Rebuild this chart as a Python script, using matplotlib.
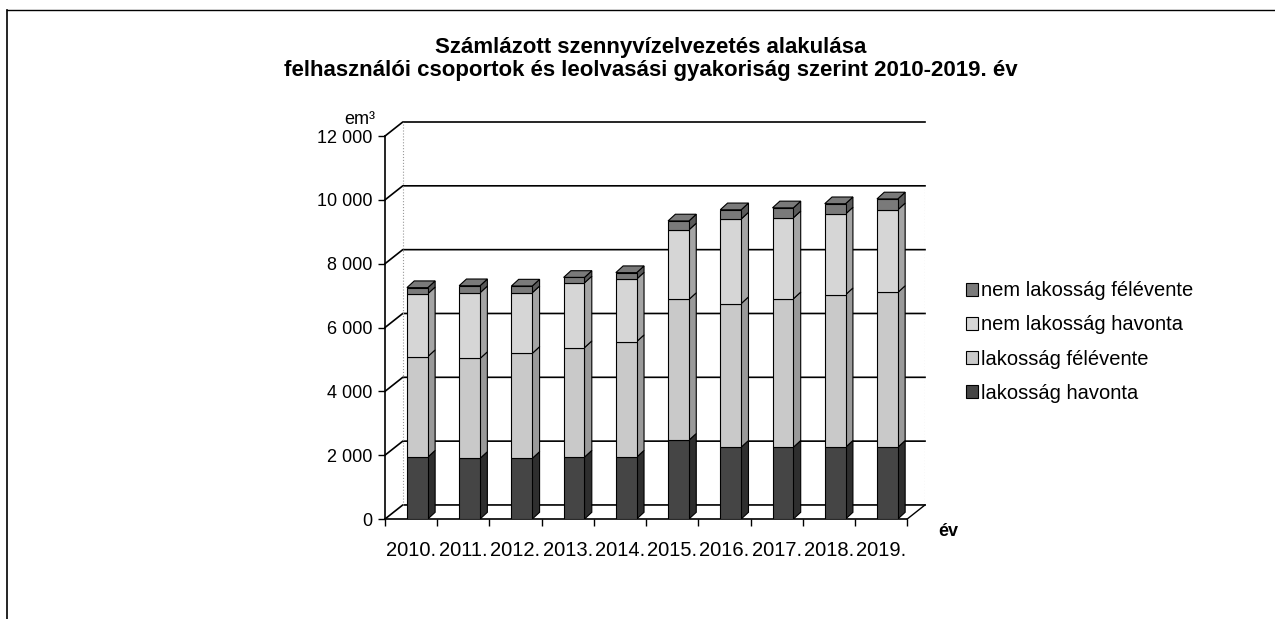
import matplotlib.pyplot as plt
import numpy as np
from matplotlib.patches import Patch
from matplotlib.lines import Line2D
from matplotlib.ticker import FuncFormatter

plt.rcParams["font.family"] = ["Liberation Sans", "DejaVu Sans"]

years = ["2010.", "2011.", "2012.", "2013.", "2014.",
         "2015.", "2016.", "2017.", "2018.", "2019."]

# em3
lak_havonta = [1940, 1900, 1900, 1940, 1940, 2470, 2250, 2250, 2250, 2250]
lak_felevente = [3150, 3130, 3290, 3430, 3620, 4410, 4500, 4650, 4780, 4850]
nem_havonta = [1970, 2060, 1900, 2030, 1960, 2180, 2650, 2540, 2530, 2590]
nem_felevente = [190, 220, 210, 170, 200, 280, 290, 310, 320, 340]

series = [
    ("lakosság havonta", lak_havonta, "#454545", "#2e2e2e"),
    ("lakosság félévente", lak_felevente, "#c9c9c9", "#9a9a9a"),
    ("nem lakosság havonta", nem_havonta, "#d6d6d6", "#a5a5a5"),
    ("nem lakosság félévente", nem_felevente, "#7a7a7a", "#5a5a5a"),
]

yticks = [0, 2000, 4000, 6000, 8000, 10000, 12000]

# pseudo 3D depth (data units)
WALL_DX, WALL_DY = 0.34, 440
BAR_DX, BAR_DY = 0.14, 210
BAR_W, BAR_OFF = 0.40, 0.12

fig = plt.figure(figsize=(12.75, 6.19), dpi=100)
ax = fig.add_axes([385 / 1275, 1 - 519 / 619, (925 - 385) / 1275,
                   (519 - 122) / 619])
n = len(years)
x = np.arange(n)
ax.set_xlim(-0.5, n - 0.5 + WALL_DX)
ax.set_ylim(0, 12000 + WALL_DY)

# back wall gridlines
for v in yticks:
    ax.plot([-0.5, -0.5 + WALL_DX, n - 0.5 + WALL_DX],
            [v, v + WALL_DY, v + WALL_DY], color="black", lw=1.2,
            zorder=1, clip_on=False)
ax.plot([-0.5 + WALL_DX] * 2, [WALL_DY, 12000 + WALL_DY], color="#999999",
        lw=0.8, ls=":", zorder=1)
ax.plot([n - 0.5 + WALL_DX] * 2, [WALL_DY, 10000 + WALL_DY], color="#999999",
        lw=0.8, ls=":", zorder=1)
ax.plot([n - 0.5, n - 0.5 + WALL_DX], [0, WALL_DY], color="black", lw=1,
        zorder=1, clip_on=False)

# stacked pseudo-3D bars
bottom = np.zeros(n)
for k, (name, vals, face, side) in enumerate(series):
    vals = np.array(vals, dtype=float)
    xl = x + BAR_OFF - BAR_W / 2
    xr = xl + BAR_W
    ax.bar(x + BAR_OFF, vals, width=BAR_W, bottom=bottom, color=face,
           edgecolor="black", lw=0.8, zorder=3)
    for i in range(n):
        b, t = bottom[i], bottom[i] + vals[i]
        ax.fill([xr[i], xr[i] + BAR_DX, xr[i] + BAR_DX, xr[i]],
                [b, b + BAR_DY, t + BAR_DY, t], color=side,
                edgecolor="black", lw=0.8, zorder=2)
        if k == len(series) - 1:
            ax.fill([xl[i], xl[i] + BAR_DX, xr[i] + BAR_DX, xr[i]],
                    [t, t + BAR_DY, t + BAR_DY, t], color=face,
                    edgecolor="black", lw=0.8, zorder=2)
    bottom += vals

# axes
for s in ["top", "right"]:
    ax.spines[s].set_visible(False)
ax.spines["left"].set_bounds(0, 12000)
ax.spines["bottom"].set_bounds(-0.5, n - 0.5)
ax.spines["left"].set_linewidth(1.2)
ax.spines["bottom"].set_linewidth(1.2)
ax.set_yticks(yticks)
ax.yaxis.set_major_formatter(
    FuncFormatter(lambda v, p: f"{int(v):,}".replace(",", " ")))
ax.tick_params(axis="y", labelsize=13, length=5, width=1, pad=4)
ax.set_xticks(x)
ax.set_xticklabels(years, fontsize=14.5)
ax.set_xticks(np.arange(-0.5, n, 1), minor=True)
ax.tick_params(axis="x", which="major", length=0, pad=16)
ax.tick_params(axis="x", which="minor", length=5, width=1)

fig.text(375 / 1275, 1 - 120 / 619, "em³", fontsize=13, ha="right",
         va="center")
fig.text(948 / 1275, 1 - 532 / 619, "év", fontsize=13, ha="center",
         va="center", fontweight="bold")

fig.text(651 / 1275, 1 - 59 / 619,
         "Számlázott szennyvízelvezetés alakulása\n"
         "felhasználói csoportok és leolvasási gyakoriság szerint "
         "2010-2019. év",
         fontsize=16, fontweight="bold", ha="center", va="center",
         linespacing=1.1)

handles = [Patch(facecolor=f, edgecolor="black", lw=0.8)
           for _, _, f, _ in series][::-1]
labels = [s[0] for s in series][::-1]
fig.legend(handles, labels, loc="center left",
           bbox_to_anchor=(948 / 1275, 1 - 342 / 619), frameon=False,
           fontsize=14.5, handlelength=0.6, handleheight=0.6,
           handletextpad=0.15, labelspacing=0.75)

# page frame (top and left edges of the scan)
fig.add_artist(Line2D([7 / 1275, 7 / 1275], [0, 1 - 10 / 619],
                      color="black", lw=1.2))
fig.add_artist(Line2D([7 / 1275, 1], [1 - 10 / 619, 1 - 10 / 619],
                      color="black", lw=1.0))

fig.savefig("out.png", dpi=100)
